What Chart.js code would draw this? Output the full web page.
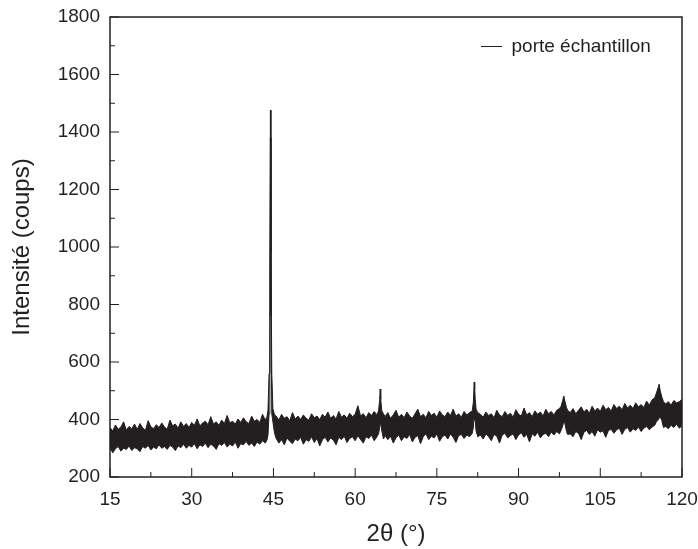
<!DOCTYPE html>
<html>
<head>
<meta charset="utf-8">
<script src="https://cdn.jsdelivr.net/npm/chart.js@4.4.1/dist/chart.umd.min.js"></script>
<style>
  body { margin: 0; background: #fff; }
  canvas { display: block; }
</style>
</head>
<body>
<canvas id="xrdChart" width="698" height="549"></canvas>
<script>
// 2theta positions (deg); extra points around each peak
const twoTheta = [
  15, 15.5, 16, 16.5, 17, 17.5, 18, 18.5, 19, 19.5,
  20, 20.5, 21, 21.5, 22, 22.5, 23, 23.5, 24, 24.5,
  25, 25.5, 26, 26.5, 27, 27.5, 28, 28.5, 29, 29.5,
  30, 30.5, 31, 31.5, 32, 32.5, 33, 33.5, 34, 34.5,
  35, 35.5, 36, 36.5, 37, 37.5, 38, 38.5, 39, 39.5,
  40, 40.5, 41, 41.5, 42, 42.5, 43, 43.5,
  43.8, 44.0, 44.2, 44.35, 44.45, 44.55, 44.7, 44.9, 45.2,
  45.5, 46, 46.5, 47, 47.5, 48, 48.5, 49, 49.5,
  50, 50.5, 51, 51.5, 52, 52.5, 53, 53.5, 54, 54.5,
  55, 55.5, 56, 56.5, 57, 57.5, 58, 58.5, 59, 59.5,
  60, 60.5, 61, 61.5, 62, 62.5, 63, 63.5, 64,
  64.3, 64.5, 64.6, 64.7, 64.9, 65.2,
  65.5, 66, 66.5, 67, 67.5, 68, 68.5, 69, 69.5,
  70, 70.5, 71, 71.5, 72, 72.5, 73, 73.5, 74, 74.5,
  75, 75.5, 76, 76.5, 77, 77.5, 78, 78.5, 79, 79.5,
  80, 80.5, 81, 81.5,
  81.7, 81.85, 81.95, 82.05, 82.2, 82.5,
  83, 83.5, 84, 84.5, 85, 85.5, 86, 86.5, 87, 87.5,
  88, 88.5, 89, 89.5, 90, 90.5, 91, 91.5, 92, 92.5,
  93, 93.5, 94, 94.5, 95, 95.5, 96, 96.5, 97, 97.5,
  97.8, 98.1, 98.3, 98.5, 98.8, 99.0,
  99.5, 100, 100.5, 101, 101.5, 102, 102.5, 103, 103.5, 104, 104.5,
  105, 105.5, 106, 106.5, 107, 107.5, 108, 108.5, 109, 109.5,
  110, 110.5, 111, 111.5, 112, 112.5, 113, 113.5, 114, 114.5,
  115.0, 115.3, 115.6, 115.8, 116.0, 116.3, 116.6,
  117, 117.5, 118, 118.5, 119, 119.5, 120
];

// top edge of the noisy trace (coups)
const countsHigh = [
  372, 360, 381, 366, 374, 392, 363, 376, 368, 384,
  366, 386, 371, 362, 396, 375, 368, 382, 372, 388,
  374, 366, 398, 378, 384, 370, 392, 376, 386, 372,
  390, 380, 402, 378, 388, 394, 382, 410, 384, 392,
  380, 398, 386, 414, 388, 394, 384, 402, 390, 406,
  392, 386, 412, 394, 400, 390, 418, 398,
  408, 432, 560, 930, 1476, 980, 560, 438, 416,
  412, 398, 418, 404, 410, 396, 424, 402, 412,
  400, 416, 404, 398, 420, 406, 412, 400, 418, 408,
  426, 404, 414, 402, 428, 408, 416, 404, 422, 410,
  418, 448, 412, 420, 406, 424, 414, 428, 416,
  430, 470, 506, 470, 430, 420,
  410, 424, 404, 416, 432, 408, 418, 406, 426,
  412, 404, 420, 436, 410, 418, 406, 428, 414, 422,
  408, 430, 416, 410, 426, 414, 436, 412, 420, 408,
  428, 416, 424, 430,
  460, 530, 505, 470, 436, 424,
  418, 408, 426, 414, 420, 406, 432, 416, 410, 428,
  414, 422, 408, 434, 418, 412, 440, 416, 424, 410,
  430, 418, 426, 412, 436, 420, 428, 416, 432, 438,
  446, 466, 482, 464, 442, 432,
  424, 438, 420, 432, 444, 426, 436, 422, 446, 430, 440,
  428, 450, 434, 442, 430, 452, 438, 446, 434, 456,
  440, 450, 438, 458, 444, 452, 442, 464, 450, 468,
  476, 492, 510, 523, 500, 478, 462,
  454, 462, 450, 466, 458, 462, 470
];

// bottom edge of the noisy trace (coups)
const countsLow = [
  302, 284, 298, 306, 290, 300, 296, 308, 292, 302,
  298, 288, 306, 300, 310, 294, 304, 298, 312, 300,
  306, 296, 310, 304, 292, 308, 302, 314, 300, 310,
  304, 316, 298, 312, 306, 318, 302, 314, 308, 296,
  316, 310, 320, 304, 314, 308, 322, 300, 316, 312,
  324, 310, 318, 306, 322, 314, 326, 318,
  328, 345, 420, 720, 1380, 760, 420, 392, 352,
  334, 318, 330, 312, 336, 324, 316, 332, 326,
  338, 314, 330, 324, 340, 320, 334, 308, 330, 338,
  322, 336, 328, 312, 338, 330, 342, 320, 334, 340,
  326, 344, 330, 318, 340, 334, 346, 326, 340,
  350, 372, 390, 384, 360, 332,
  344, 330, 342, 318, 336, 346, 326, 340, 334,
  348, 322, 338, 344, 316, 340, 350, 330, 342, 336,
  350, 324, 340, 346, 332, 350, 338, 320, 344, 348,
  334, 346, 340, 352,
  372, 420, 400, 392, 360, 340,
  346, 332, 350, 340, 326, 348, 342, 318, 346, 352,
  336, 344, 350, 330, 346, 354, 338, 348, 322, 350,
  342, 356, 336, 348, 352, 340, 356, 346, 358, 350,
  362, 378, 392, 386, 358, 348,
  350, 340, 358, 352, 330, 356, 362, 348, 358, 342, 364,
  356, 360, 338, 362, 366, 352, 364, 370, 348, 366,
  372, 356, 368, 362, 374, 358, 370, 376, 364, 374,
  380, 392, 398, 404, 410, 396, 372,
  376, 368, 380, 372, 384, 370, 378
];

const seriesLabel = 'porte échantillon';
const xTitle = '2θ (°)';
const yTitle = 'Intensité (coups)';

const ink = '#231f20';
const fontFamily = '"Liberation Sans", Arial, sans-serif';

// frame around the plot + inward major/minor ticks
const frameTicks = {
  id: 'frameTicks',
  afterDatasetsDraw(chart) {
    const { ctx, chartArea: a, scales } = chart;
    ctx.save();
    ctx.strokeStyle = ink;
    ctx.lineWidth = 1.5;
    ctx.strokeRect(a.left, a.top, a.right - a.left, a.bottom - a.top);

    ctx.lineWidth = 1;
    ctx.beginPath();
    const xt = scales.x.ticks.map(t => t.value);
    xt.forEach((v, i) => {
      const px = scales.x.getPixelForValue(v);
      ctx.moveTo(px, a.bottom);
      ctx.lineTo(px, a.bottom - 9);
      if (i < xt.length - 1) {
        const mx = scales.x.getPixelForValue((v + xt[i + 1]) / 2);
        ctx.moveTo(mx, a.bottom);
        ctx.lineTo(mx, a.bottom - 5);
      }
    });
    const yt = scales.y.ticks.map(t => t.value);
    yt.forEach((v, i) => {
      const py = scales.y.getPixelForValue(v);
      ctx.moveTo(a.left, py);
      ctx.lineTo(a.left + 9, py);
      if (i < yt.length - 1) {
        const my = scales.y.getPixelForValue((v + yt[i + 1]) / 2);
        ctx.moveTo(a.left, my);
        ctx.lineTo(a.left + 5, my);
      }
    });
    ctx.stroke();
    ctx.restore();
  }
};

// put the legend inside the plot, upper right
const legendInside = {
  id: 'legendInside',
  afterLayout(chart) {
    const lg = chart.legend;
    const a = chart.chartArea;
    const w = lg.width, h = lg.height;
    lg.left = a.right - 211;
    lg.right = lg.left + w;
    lg.top = a.top + 10;
    lg.bottom = lg.top + h;
  }
};

const ctx = document.getElementById('xrdChart').getContext('2d');

new Chart(ctx, {
  type: 'line',
  data: {
    datasets: [
      {
        label: 'low',
        data: countsLow.map((v, i) => ({ x: twoTheta[i], y: v })),
        borderColor: ink,
        backgroundColor: ink,
        borderWidth: 1,
        pointRadius: 0,
        fill: false
      },
      {
        label: seriesLabel,
        data: countsHigh.map((v, i) => ({ x: twoTheta[i], y: v })),
        borderColor: ink,
        backgroundColor: ink,
        borderWidth: 1,
        pointRadius: 0,
        fill: '-1'
      }
    ]
  },
  options: {
    responsive: false,
    animation: false,
    devicePixelRatio: 1,
    layout: { padding: { left: 0, top: 17, right: 16, bottom: 0 } },
    plugins: {
      legend: {
        position: 'chartArea',
        align: 'start',
        labels: {
          filter: item => item.datasetIndex === 1,
          usePointStyle: true,
          pointStyle: 'line',
          pointStyleWidth: 21,
          color: ink,
          padding: 10,
          font: { family: fontFamily, size: 19 }
        }
      },
      tooltip: { enabled: false }
    },
    scales: {
      x: {
        type: 'linear',
        min: 15,
        max: 120,
        afterFit: s => {
          s.height = 72;
          s.paddingLeft = 0;
          s.paddingRight = 0;
        },
        grid: { display: false, drawTicks: false },
        border: { display: false },
        ticks: {
          stepSize: 15,
          padding: 11,
          color: ink,
          font: { family: fontFamily, size: 19 }
        },
        title: {
          display: true,
          text: xTitle,
          color: ink,
          padding: { top: 0, bottom: 0 },
          font: { family: fontFamily, size: 24 }
        }
      },
      y: {
        type: 'linear',
        min: 200,
        max: 1800,
        afterFit: s => {
          s.width = 110;
          s.paddingTop = 0;
          s.paddingBottom = 0;
        },
        grid: { display: false, drawTicks: false },
        border: { display: false },
        ticks: {
          stepSize: 200,
          padding: 10,
          color: ink,
          callback: v => String(v),
          font: { family: fontFamily, size: 19 }
        },
        title: {
          display: true,
          text: yTitle,
          color: ink,
          padding: { top: 8, bottom: 0 },
          font: { family: fontFamily, size: 24 }
        }
      }
    }
  },
  plugins: [frameTicks, legendInside]
});
</script>
</body>
</html>
